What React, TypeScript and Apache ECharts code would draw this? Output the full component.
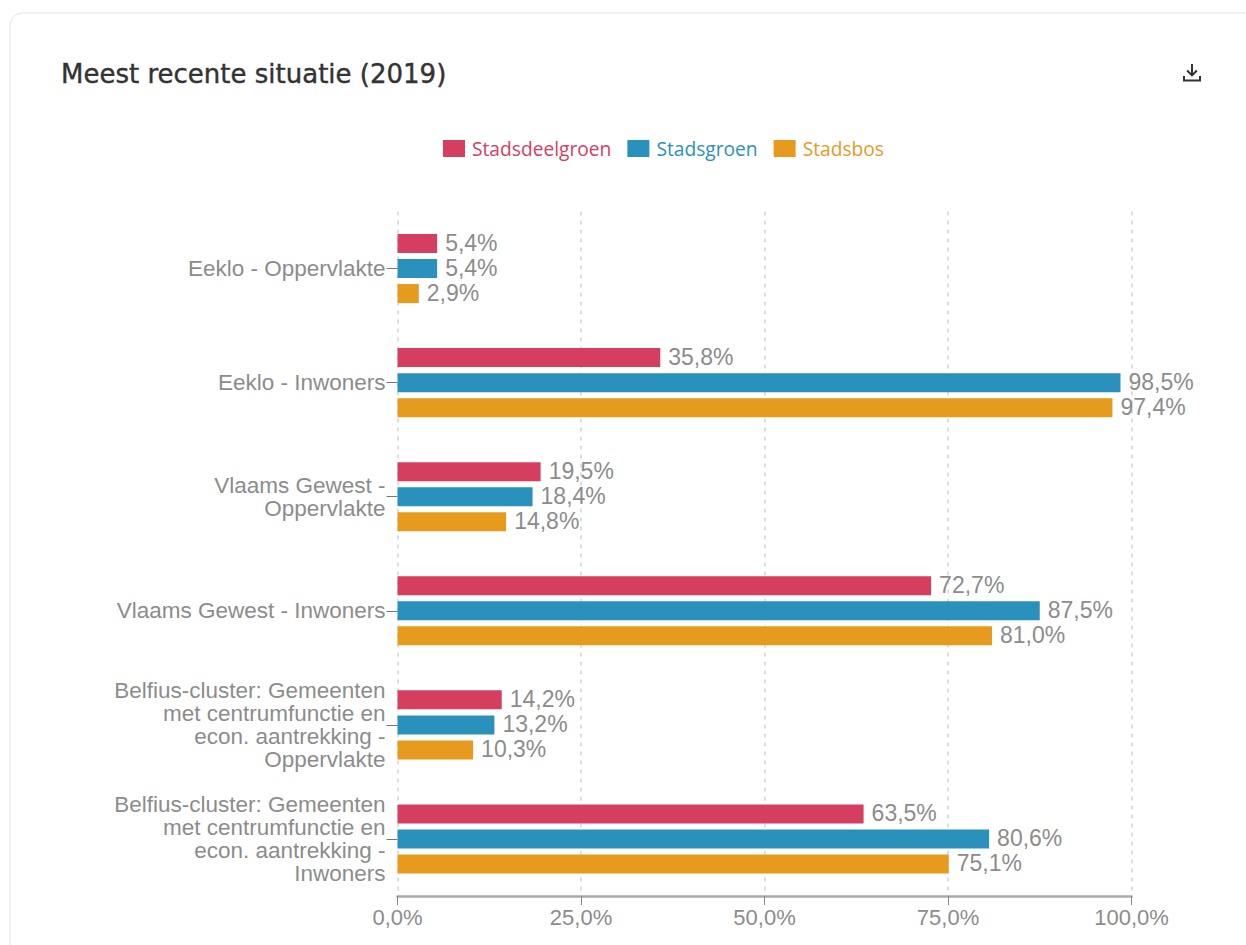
import React, { useEffect, useRef } from "react";
import * as echarts from "echarts";

const categories = [
  "Eeklo - Oppervlakte",
  "Eeklo - Inwoners",
  "Vlaams Gewest -\nOppervlakte",
  "Vlaams Gewest - Inwoners",
  "Belfius-cluster: Gemeenten\nmet centrumfunctie en\necon. aantrekking -\nOppervlakte",
  "Belfius-cluster: Gemeenten\nmet centrumfunctie en\necon. aantrekking -\nInwoners",
];
const stadsdeelgroen = [5.4, 35.8, 19.5, 72.7, 14.2, 63.5];
const stadsgroen = [5.4, 98.5, 18.4, 87.5, 13.2, 80.6];
const stadsbos = [2.9, 97.4, 14.8, 81.0, 10.3, 75.1];
const seriesNames = ["Stadsdeelgroen", "Stadsgroen", "Stadsbos"];
const colors = ["#d63e60", "#2a91bd", "#e69b1e"];
const title = "Meest recente situatie (2019)";

const fmt = (v: number) => v.toFixed(1).replace(".", ",") + "%";
const iconPath =
  "M8 0h2v9l3.2-3.2 1.4 1.4L9 12.8 3.4 7.2l1.4-1.4L8 9V0zM0 12h2v3.6h14V12h2v5.6H0V12z";

export default function App() {
  const ref = useRef<HTMLDivElement>(null);
  useEffect(() => {
    document.body.style.margin = "0";
    echarts.graphic.registerShape("dl", echarts.graphic.extendPath(iconPath as any, {}) as any);
    const chart = echarts.init(ref.current!, undefined, { renderer: "svg" });
    const labelFont = "'Liberation Sans', Arial, sans-serif";
    const mk = (i: number, data: number[]) => ({
      name: seriesNames[i],
      type: "bar",
      data,
      barWidth: 19,
      barGap: "31.6%",
      itemStyle: { color: colors[i] },
      label: {
        show: true,
        position: "right",
        distance: 8,
        offset: [0, -1],
        color: "#8c8c8c",
        fontFamily: labelFont,
        fontSize: 23,
        formatter: (p: any) => fmt(p.value),
      },
    });
    chart.setOption({
      animation: false,
      backgroundColor: "#ffffff",
      title: {
        text: title,
        left: 56,
        top: 56,
        textStyle: {
          fontFamily: "'DejaVu Sans', sans-serif",
          fontSize: 26,
          fontWeight: "normal",
          color: "#333333",
          textBorderColor: "#333333",
          textBorderWidth: 0.4,
        },
      },
      legend: {
        top: 134,
        left: 438,
        itemWidth: 22,
        itemHeight: 17,
        itemGap: 16,
        icon: "rect",
        data: seriesNames.map((n, i) => ({
          name: n,
          textStyle: {
            color: colors[i],
            fontFamily: "'Open Sans', sans-serif",
            fontSize: 19.2,
            padding: [0, 0, 0, 2],
          },
        })),
      },
      grid: { left: 397.5, top: 211.5, width: 734, height: 684.5, containLabel: false },
      xAxis: {
        type: "value",
        min: 0,
        max: 100,
        interval: 25,
        axisLine: { show: true, lineStyle: { color: "#aaaaaa", width: 2.5 } },
        axisTick: { show: true, length: 9, lineStyle: { color: "#888888", width: 1 } },
        axisLabel: {
          color: "#8c8c8c",
          fontFamily: labelFont,
          fontSize: 22,
          margin: 10,
          formatter: (v: number) => fmt(v),
        },
        splitLine: { show: true, lineStyle: { color: "#d4d4d4", type: [4, 5], width: 1.5 } },
      },
      yAxis: {
        type: "category",
        inverse: true,
        data: categories,
        axisLine: { show: false },
        axisTick: { show: true, alignWithLabel: true, length: 11, lineStyle: { color: "#777777", width: 1 } },
        axisLabel: {
          color: "#8c8c8c",
          fontFamily: labelFont,
          fontSize: 22.5,
          lineHeight: 23,
          margin: 12,
          align: "right",
        },
      },
      series: [mk(0, stadsdeelgroen), mk(1, stadsgroen), mk(2, stadsbos)],
      graphic: [
        {
          type: "rect",
          silent: true,
          z: -1,
          shape: { x: 10, y: 13, width: 1300, height: 1100, r: 12 },
          style: { fill: "#ffffff", stroke: "#e4e4e4", lineWidth: 1 },
        },
        {
          type: "dl",
          x: 1183,
          y: 64,
          style: { fill: "#333333" },
        },
      ],
    });
    return () => chart.dispose();
  }, []);
  return <div ref={ref} style={{ position: "fixed", left: 0, top: 0, width: 1246, height: 945 }} />;
}
